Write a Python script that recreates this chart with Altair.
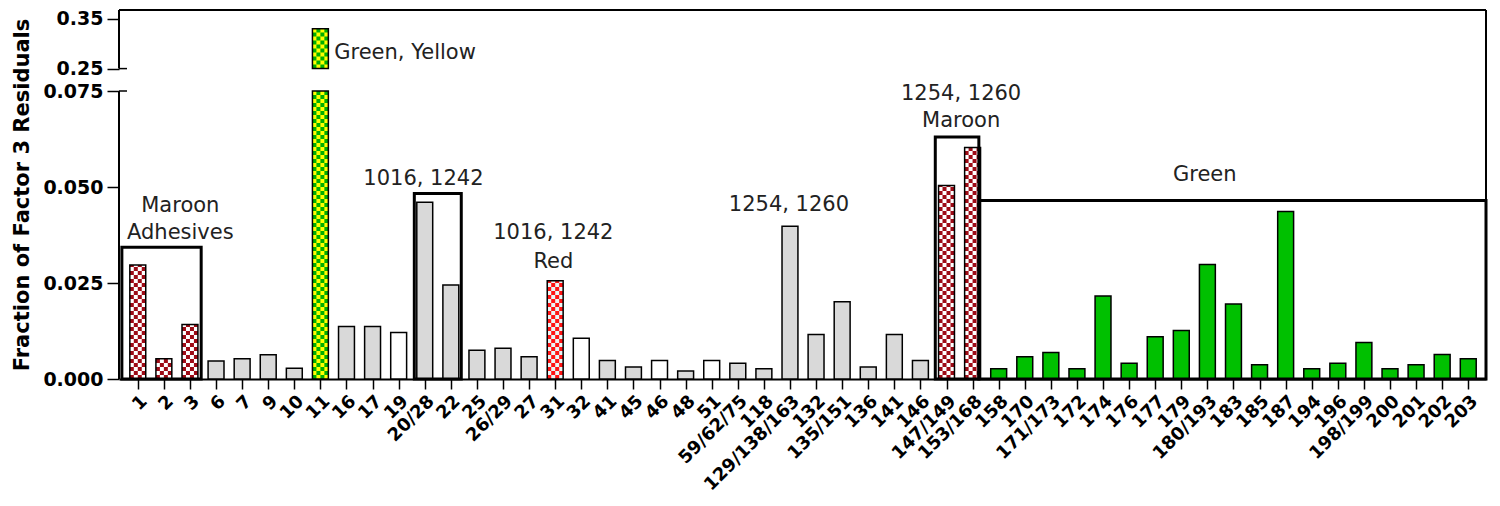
import json
import altair as alt
import pandas as pd

# ---------------- data ----------------
categories = ["1", "2", "3", "6", "7", "9", "10", "11", "16", "17", "19", "20/28", "22",
              "25", "26/29", "27", "31", "32", "41", "45", "46", "48", "51", "59/62/75",
              "118", "129/138/163", "132", "135/151", "136", "141", "146", "147/149",
              "153/168", "158", "170", "171/173", "172", "174", "176", "177", "179",
              "180/193", "183", "185", "187", "194", "196", "198/199", "200", "201",
              "202", "203"]

values = [0.0297, 0.0053, 0.0142, 0.0047, 0.0053, 0.0063, 0.0028, 0.330, 0.0137, 0.0137,
          0.0121, 0.0460, 0.0245, 0.0075, 0.0080, 0.0058, 0.0256, 0.0106, 0.0048, 0.0031,
          0.0048, 0.0021, 0.0048, 0.0041, 0.0027, 0.0398, 0.0116, 0.0201, 0.0031, 0.0116,
          0.0048, 0.0504, 0.0603, 0.0027, 0.0058, 0.0069, 0.0027, 0.0216, 0.0041, 0.0110,
          0.0126, 0.0298, 0.0195, 0.0037, 0.0436, 0.0027, 0.0041, 0.0095, 0.0027, 0.0037,
          0.0064, 0.0053]

kinds = ["maroon", "maroon", "maroon", "gray", "gray", "gray", "gray", "greenyellow",
         "gray", "gray", "white", "gray", "gray", "gray", "gray", "gray", "red", "white",
         "gray", "gray", "white", "gray", "white", "gray", "gray", "gray", "gray", "gray",
         "gray", "gray", "gray", "maroon", "maroon"] + ["green"] * 19

# annotation boxes (x in category-index units, top in y units)
box_x0 = [-0.61, 10.6, 30.57, 32.24]
box_x1 = [2.43, 12.4, 32.24, 51.68]
box_top = [0.0343, 0.0483, 0.0630, 0.0465]

# annotation texts (centered)
ann_text = ["Maroon", "Adhesives", "1016, 1242", "1016, 1242", "Red",
            "1254, 1260", "1254, 1260", "Maroon", "Green"]
ann_x = [1.63, 1.63, 10.95, 15.93, 15.93, 24.96, 31.56, 31.56, 40.9]
ann_y = [0.0450, 0.0381, 0.0521, 0.0379, 0.0305, 0.0453, 0.0742, 0.0671, 0.0531]

# left-aligned annotation
ann_left_text = ["Green, Yellow"]
ann_left_x = [7.53]
ann_left_y = [0.2814]

y_ticks = [0.0, 0.025, 0.05, 0.075, 0.25, 0.35]

LOW_MAX = 0.075
HIGH_MIN = 0.25
Y_TOP = 0.3677
X_MIN, X_MAX = -0.72, 51.68
BAR_HALF = 0.305
N_COLS = 4

W, H = 1367, 369
FONT = "DejaVu Sans"

# ---------------- tables ----------------
seg_rows = []
for i, (c, v, k) in enumerate(zip(categories, values, kinds)):
    seg_rows.append(dict(idx=i, cat=c, kind=k, lo=0.0, hi=min(v, LOW_MAX)))
    if v > HIGH_MIN:
        seg_rows.append(dict(idx=i, cat=c, kind=k, lo=HIGH_MIN, hi=v))
segs = pd.DataFrame(seg_rows)

patterned = ["maroon", "red", "greenyellow"]
chk = pd.DataFrame([dict(r, col=j) for r in seg_rows if r["kind"] in patterned
                    for j in range(N_COLS)])

boxes = pd.DataFrame(dict(x0=box_x0, x1=box_x1, lo=[0.0] * len(box_x0), hi=box_top))
ann = pd.DataFrame(dict(text=ann_text, x=ann_x, y=ann_y))
ann_left = pd.DataFrame(dict(text=ann_left_text, x=ann_left_x, y=ann_left_y))

# ---------------- scales / axes ----------------
yscale = alt.Scale(domain=[0, LOW_MAX, HIGH_MIN, Y_TOP], range=[H, 81.0, 58.6, 0],
                   nice=False, zero=False)
xscale = alt.Scale(domain=[X_MIN, X_MAX], nice=False, zero=False)

label_expr = json.dumps(categories) + "[datum.value]"
xaxis = alt.Axis(values=list(range(len(categories))), labelExpr=label_expr, title=None,
                 grid=False, labelAngle=-45, labelAlign="right", labelBaseline="top",
                 labelFont=FONT, labelFontSize=18, labelFontWeight="bold",
                 labelColor="black", labelPadding=3, labelOverlap=False,
                 labelFlush=False, labelBound=False, tickSize=10, tickColor="black",
                 tickWidth=1.5, domainColor="black", domainWidth=2)
yaxis = alt.Axis(values=y_ticks,
                 labelExpr="datum.value >= 0.25 ? format(datum.value, '.2f') : format(datum.value, '.3f')",
                 title="Fraction of Factor 3 Residuals", titleFont=FONT, titleFontSize=21,
                 titleFontWeight="bold", titleColor="black", titlePadding=10,
                 labelFont=FONT, labelFontSize=19, labelFontWeight="bold",
                 labelColor="black", labelPadding=4, grid=False, domain=False,
                 tickSize=12, tickColor="black", tickWidth=1.5)

fill_scale = alt.Scale(domain=["maroon", "red", "greenyellow", "gray", "white", "green"],
                       range=["#ffffff", "#eaf6f6", "#ffff00", "#d9d9d9", "#ffffff", "#00c000"])
stroke_scale = alt.Scale(domain=["maroon", "red", "greenyellow"],
                         range=["#9e0b16", "#ff1414", "#00b000"])


def X(field):
    return alt.X(field, scale=xscale, axis=xaxis)


def Y(field):
    return alt.Y(field, scale=yscale, axis=yaxis)


# ---------------- layers ----------------
bar_base = alt.Chart(segs).transform_calculate(
    x0=f"datum.idx - {BAR_HALF}", x1=f"datum.idx + {BAR_HALF}")

bars_fill = bar_base.mark_rect(strokeWidth=0).encode(
    x=X("x0:Q"), x2="x1:Q", y=Y("lo:Q"), y2="hi:Q",
    fill=alt.Fill("kind:N", scale=fill_scale, legend=None),
)

chk_base = alt.Chart(chk).transform_calculate(
    cx=f"datum.idx - {BAR_HALF} + (datum.col + 0.5) * {2 * BAR_HALF / N_COLS}",
    par="datum.col % 2")


def chk_layer(parity, offset):
    return chk_base.transform_filter(f"datum.par == {parity}").mark_rule(
        strokeWidth=4, strokeDash=[4, 4], strokeDashOffset=offset, strokeCap="butt"
    ).encode(
        x=X("cx:Q"), y=Y("lo:Q"), y2="hi:Q",
        stroke=alt.Stroke("kind:N", scale=stroke_scale, legend=None),
    )


chk_even = chk_layer(0, 0)
chk_odd = chk_layer(1, 4)

bars_outline = bar_base.mark_rect(fillOpacity=0, stroke="black", strokeWidth=1.5).encode(
    x=X("x0:Q"), x2="x1:Q", y=Y("lo:Q"), y2="hi:Q",
)

box_layer = alt.Chart(boxes).mark_rect(fillOpacity=0, stroke="black", strokeWidth=3).encode(
    x=X("x0:Q"), x2="x1:Q", y=Y("lo:Q"), y2="hi:Q",
)

frame_df = pd.DataFrame({"k": [0]})
frame_top = alt.Chart(frame_df).mark_rule(color="black", strokeWidth=2).encode(
    x=alt.value(0), x2=alt.value(W), y=alt.value(0))
frame_right = alt.Chart(frame_df).mark_rule(color="black", strokeWidth=2).encode(
    x=alt.value(W), y=alt.value(0), y2=alt.value(H))
axis_low = alt.Chart(frame_df).mark_rule(color="black", strokeWidth=2).encode(
    x=alt.value(0), y=alt.datum(0.0, scale=yscale, axis=yaxis), y2=alt.datum(LOW_MAX))
axis_high = alt.Chart(frame_df).mark_rule(color="black", strokeWidth=2).encode(
    x=alt.value(0), y=alt.datum(HIGH_MIN, scale=yscale, axis=yaxis), y2=alt.value(0))
cap_low = alt.Chart(frame_df).mark_rule(color="black", strokeWidth=1.5).encode(
    x=alt.value(0), x2=alt.value(8), y=alt.datum(LOW_MAX, scale=yscale, axis=yaxis))
cap_high = alt.Chart(frame_df).mark_rule(color="black", strokeWidth=1.5).encode(
    x=alt.value(0), x2=alt.value(8), y=alt.datum(HIGH_MIN, scale=yscale, axis=yaxis))

text_center = alt.Chart(ann).mark_text(font=FONT, fontSize=21, color="#222222",
                                       align="center", baseline="middle").encode(
    x=X("x:Q"), y=Y("y:Q"), text="text:N",
)
text_left = alt.Chart(ann_left).mark_text(font=FONT, fontSize=21, color="#222222",
                                          align="left", baseline="middle").encode(
    x=X("x:Q"), y=Y("y:Q"), text="text:N",
)

chart = alt.layer(
    bars_fill, chk_even, chk_odd, bars_outline, box_layer,
    frame_top, frame_right, axis_low, axis_high, cap_low, cap_high,
    text_center, text_left,
).properties(
    width=W, height=H,
    padding={"left": 3, "top": 1, "right": 2, "bottom": 0},
    background="white",
).configure_view(stroke=None)

chart.save("out.html", embed_options={"renderer": "svg", "actions": False})
